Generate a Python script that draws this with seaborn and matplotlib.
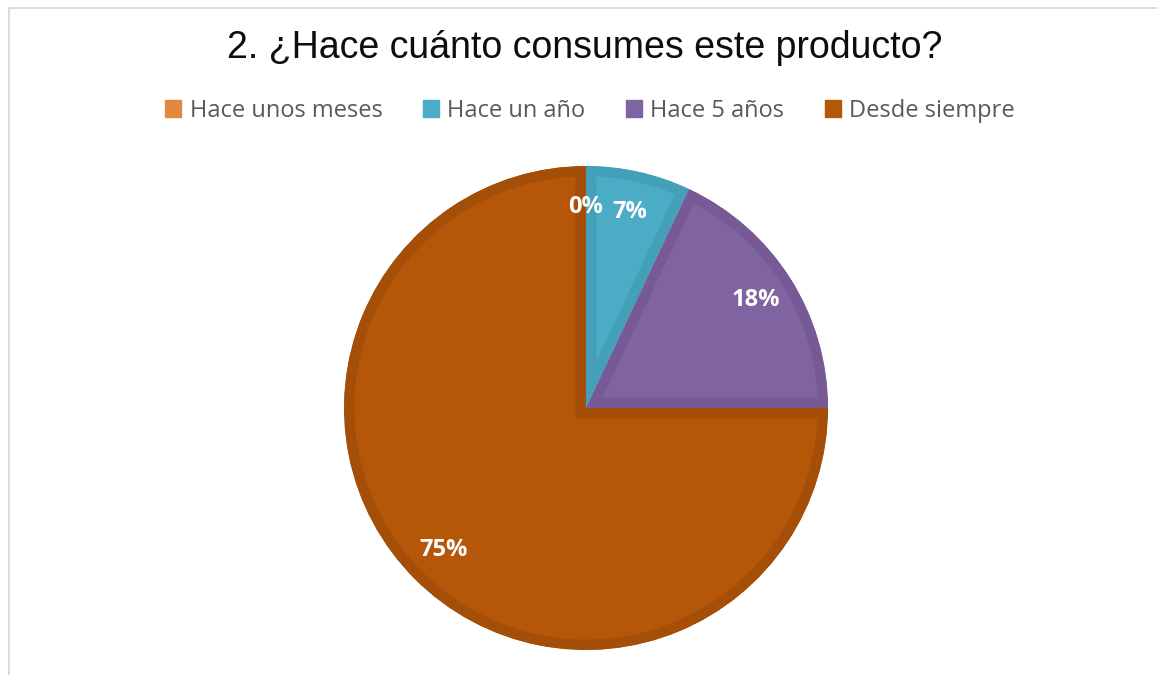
import matplotlib
matplotlib.use("Agg")
import matplotlib.pyplot as plt
from matplotlib.patches import Rectangle, Patch
import seaborn as sns

# data
categories = ["Hace unos meses", "Hace un año", "Hace 5 años", "Desde siempre"]
values = [0, 7, 18, 75]
title = "2. ¿Hace cuánto consumes este producto?"

face_colors = ["#E0893F", "#4BACC6", "#8064A2", "#B55708"]
edge_colors = ["#CC7A33", "#44A0B8", "#775A95", "#A44E07"]

sns.set_theme(style="white")
plt.rcParams['font.family'] = ['Open Sans', 'DejaVu Sans']
palette = sns.color_palette(face_colors)

W, H = 1157, 675
fig = plt.figure(figsize=(W / 100, H / 100), dpi=100)

# outer chart border (only left and top visible)
fig.patches.append(Rectangle((9 / W, -0.2), 2, 1.2 - 7.5 / H, fill=False,
                             edgecolor="#D9D9D9", linewidth=1.3,
                             transform=fig.transFigure))

cx, cy, r = 586, 408, 242
ax = fig.add_axes([(cx - r) / W, (H - cy - r) / H, 2 * r / W, 2 * r / H])

wedges, texts, autotexts = ax.pie(
    values, colors=palette, startangle=90, counterclock=False,
    autopct=lambda p: f"{p:.0f}%", pctdistance=0.83,
    wedgeprops=dict(linewidth=15),
    textprops=dict(color="white", fontsize=17, fontweight="bold"))

# darker border drawn only on the inside of each slice
for w, ec in zip(wedges, edge_colors):
    w.set_edgecolor(ec)
    w.set_clip_on(True)
    w.set_clip_path(w)

ax.set_xlim(-1, 1)
ax.set_ylim(-1, 1)
ax.set_aspect("equal")
ax.axis("off")

fig.text(585 / W, 1 - 48 / H, title, ha="center", va="center",
         fontsize=27, color="#0D0D0D", family=["Liberation Sans", "DejaVu Sans"])

handles = [Patch(facecolor=c, edgecolor=c) for c in palette]
fig.legend(handles, categories, loc="center", bbox_to_anchor=(590 / W, 1 - 111 / H),
           ncol=4, frameon=False, fontsize=17, handlelength=0.7, handleheight=0.7,
           handletextpad=0.35, columnspacing=1.7, labelcolor="#595959")

fig.savefig("out.png", dpi=100, facecolor="white")
